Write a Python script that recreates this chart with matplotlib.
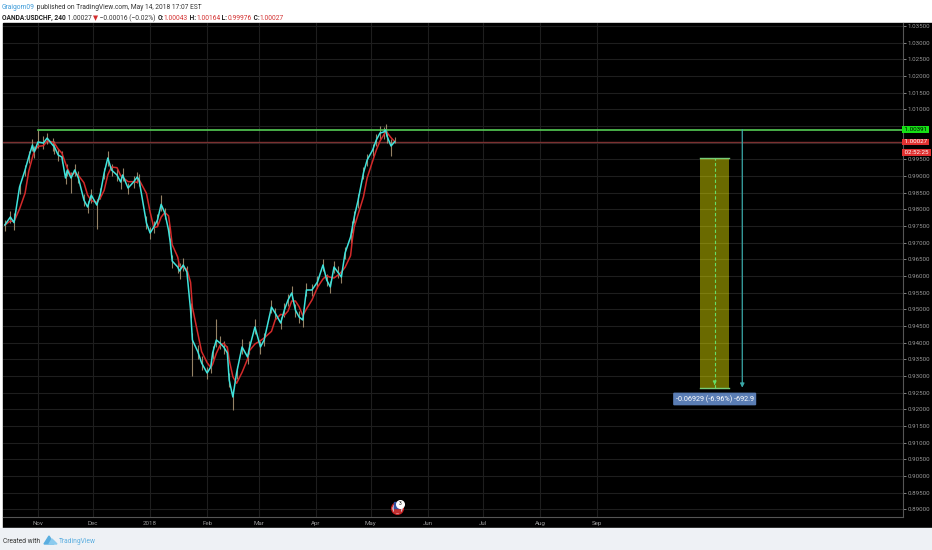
import matplotlib
matplotlib.use("Agg")
import matplotlib.pyplot as plt
import matplotlib.dates as mdates
import matplotlib.patches as mpatches
import matplotlib.text as mtext
import numpy as np
import pandas as pd

plt.rcParams['font.family'] = ['Roboto', 'DejaVu Sans']

# --- data (USDCHF, 4h) ---
dates = ["2017-10-14", "2017-10-17", "2017-10-19", "2017-10-22", "2017-10-25", "2017-10-27",
         "2017-10-29", "2017-10-30", "2017-11-01", "2017-11-04", "2017-11-06", "2017-11-09",
         "2017-11-10", "2017-11-12", "2017-11-14", "2017-11-16", "2017-11-17", "2017-11-19",
         "2017-11-21", "2017-11-23", "2017-11-26", "2017-11-28", "2017-11-30", "2017-12-03",
         "2017-12-05", "2017-12-07", "2017-12-09", "2017-12-11", "2017-12-14", "2017-12-16",
         "2017-12-17", "2017-12-20", "2017-12-23", "2017-12-25", "2017-12-26", "2017-12-30",
         "2018-01-01", "2018-01-03", "2018-01-05", "2018-01-07", "2018-01-09", "2018-01-11",
         "2018-01-12", "2018-01-13", "2018-01-16", "2018-01-17", "2018-01-19", "2018-01-21",
         "2018-01-23", "2018-01-24", "2018-01-27", "2018-01-29", "2018-02-01", "2018-02-03",
         "2018-02-04", "2018-02-06", "2018-02-08", "2018-02-10", "2018-02-12", "2018-02-13",
         "2018-02-15", "2018-02-17", "2018-02-20", "2018-02-23", "2018-02-24", "2018-02-27",
         "2018-03-02", "2018-03-04", "2018-03-08", "2018-03-10", "2018-03-13", "2018-03-15",
         "2018-03-17", "2018-03-19", "2018-03-21", "2018-03-23", "2018-03-25", "2018-03-27",
         "2018-03-30", "2018-04-02", "2018-04-05", "2018-04-07", "2018-04-09", "2018-04-11",
         "2018-04-13", "2018-04-15", "2018-04-17", "2018-04-20", "2018-04-21", "2018-04-22",
         "2018-04-24", "2018-04-27", "2018-04-29", "2018-05-02", "2018-05-04", "2018-05-06",
         "2018-05-08", "2018-05-09", "2018-05-10", "2018-05-12", "2018-05-14"]

closes = [0.9753, 0.9777, 0.9760, 0.9867, 0.9918, 0.9957, 0.9993, 0.9972, 1.0002, 0.9999,
          1.0014, 0.9993, 0.9987, 0.9963, 0.9957, 0.9894, 0.9918, 0.9894, 0.9918, 0.9894,
          0.9828, 0.9807, 0.9843, 0.9813, 0.9849, 0.9909, 0.9954, 0.9918, 0.9903, 0.9882,
          0.9903, 0.9864, 0.9882, 0.9897, 0.9888, 0.9759, 0.9729, 0.9747, 0.9768, 0.9815,
          0.9789, 0.9738, 0.9699, 0.9645, 0.9627, 0.9615, 0.9633, 0.9612, 0.9498, 0.9408,
          0.9372, 0.9339, 0.9309, 0.9327, 0.9369, 0.9408, 0.9399, 0.9387, 0.9369, 0.9288,
          0.9237, 0.9309, 0.9387, 0.9357, 0.9384, 0.9447, 0.9387, 0.9408, 0.9507, 0.9489,
          0.9459, 0.9498, 0.9528, 0.9549, 0.9498, 0.9477, 0.9468, 0.9558, 0.9558, 0.9582,
          0.9633, 0.9588, 0.9567, 0.9627, 0.9612, 0.9597, 0.9669, 0.9717, 0.9747, 0.9777,
          0.9825, 0.9909, 0.9948, 0.9978, 1.0008, 1.0029, 1.0032, 1.0038, 1.0017, 0.9990,
          1.0003]

highs = [0.9768, 0.9795, 0.9790, 0.9880, 0.9932, 0.9975, 1.0010, 0.9990, 1.0039, 1.0020,
         1.0030, 1.0015, 1.0005, 0.9980, 0.9975, 0.9915, 0.9935, 0.9912, 0.9935, 0.9915,
         0.9845, 0.9825, 0.9860, 0.9830, 0.9865, 0.9925, 0.9975, 0.9935, 0.9920, 0.9900,
         0.9925, 0.9880, 0.9900, 0.9912, 0.9905, 0.9780, 0.9748, 0.9765, 0.9785, 0.9843,
         0.9805, 0.9755, 0.9715, 0.9662, 0.9645, 0.9640, 0.9655, 0.9630, 0.9520, 0.9430,
         0.9392, 0.9360, 0.9328, 0.9345, 0.9390, 0.9470, 0.9420, 0.9405, 0.9390, 0.9310,
         0.9260, 0.9330, 0.9410, 0.9375, 0.9405, 0.9470, 0.9405, 0.9428, 0.9528, 0.9505,
         0.9478, 0.9518, 0.9545, 0.9570, 0.9515, 0.9495, 0.9485, 0.9580, 0.9575, 0.9600,
         0.9650, 0.9605, 0.9585, 0.9645, 0.9630, 0.9615, 0.9688, 0.9735, 0.9765, 0.9795,
         0.9845, 0.9928, 0.9965, 0.9995, 1.0025, 1.0050, 1.0048, 1.0056, 1.0035, 1.0010,
         1.0016]

lows = [0.9735, 0.9760, 0.9738, 0.9845, 0.9900, 0.9940, 0.9975, 0.9955, 0.9985, 0.9980,
        0.9995, 0.9975, 0.9965, 0.9945, 0.9938, 0.9875, 0.9900, 0.9850, 0.9900, 0.9878,
        0.9810, 0.9790, 0.9820, 0.9740, 0.9830, 0.9890, 0.9930, 0.9900, 0.9885, 0.9860,
        0.9885, 0.9845, 0.9865, 0.9880, 0.9870, 0.9740, 0.9710, 0.9730, 0.9750, 0.9795,
        0.9770, 0.9720, 0.9680, 0.9625, 0.9610, 0.9590, 0.9615, 0.9590, 0.9475, 0.9300,
        0.9350, 0.9318, 0.9290, 0.9308, 0.9350, 0.9388, 0.9380, 0.9365, 0.9350, 0.9268,
        0.9198, 0.9290, 0.9365, 0.9335, 0.9365, 0.9425, 0.9365, 0.9390, 0.9488, 0.9470,
        0.9440, 0.9478, 0.9510, 0.9530, 0.9478, 0.9458, 0.9448, 0.9540, 0.9540, 0.9565,
        0.9615, 0.9570, 0.9548, 0.9610, 0.9595, 0.9580, 0.9650, 0.9700, 0.9730, 0.9760,
        0.9805, 0.9890, 0.9930, 0.9960, 0.9990, 1.0010, 1.0012, 1.0020, 0.9998, 0.9960,
        0.9998]

month_ticks = ["2017-11-01", "2017-12-01", "2018-01-01", "2018-02-01", "2018-03-01",
               "2018-04-01", "2018-05-01", "2018-06-01", "2018-07-01", "2018-08-01",
               "2018-09-01"]
month_labels = ["Nov", "Dec", "2018", "Feb", "Mar", "Apr", "May", "Jun", "Jul", "Aug", "Sep"]

resistance = 1.00391
last_price = 1.00027
countdown = "02:52:25"
box_dates = ["2018-10-27", "2018-11-12"]
box_prices = [0.92649, 0.99531]
box_mid_date = "2018-11-04"
arrow_date = "2018-11-19"
measure_text = "-0.06929 (-6.96%) -692.9"
event_date = "2018-05-15"

# --- figure ---
W, H = 932, 550
fig = plt.figure(figsize=(W / 100, H / 100), dpi=100, facecolor='white')
fig.patches.append(mpatches.Rectangle((3 / W, 1 - 528 / H), 929 / W, 505 / H,
                                      transform=fig.transFigure, color='black', zorder=-5))
fig.patches.append(mpatches.Rectangle((0, 0), 1, 22 / H, transform=fig.transFigure,
                                      color='#eef1f5', zorder=-5))

ax = fig.add_axes([3 / W, 1 - 517 / H, 900 / W, 494 / H])
ax.set_zorder(2)
ax.set_facecolor('black')

x = pd.to_datetime(dates)
close_s = pd.Series(closes, index=x)
ma = close_s.rolling(3, min_periods=1).mean()

# grid
yticks = np.arange(0.890, 1.0351, 0.005)
ax.set_yticks(yticks)
ax.set_xticks(pd.to_datetime(month_ticks))
ax.set_xticklabels(month_labels)
ax.grid(True, color='#1e1e1e', linewidth=0.8, zorder=0)
ax.set_axisbelow(True)

# candles (wicks) and moving averages
ax.vlines(x, lows, highs, color='#b09a78', linewidth=0.8, alpha=0.85, zorder=2)
ax.plot(x, ma.values, color='#d42a2a', linewidth=1.1, zorder=3)
ax.plot(x, closes, color='#3fe3dc', linewidth=1.1, zorder=4)

# horizontal levels
ax.axhline(last_price, color='#7a3030', linewidth=1.0, zorder=1)
ax.plot([pd.Timestamp("2017-11-01"), pd.Timestamp("2019-03-01")], [resistance, resistance],
        color='#55cc55', linewidth=1.2, zorder=3)

# projection box
b0, b1 = pd.to_datetime(box_dates)
bx0, bx1 = mdates.date2num(b0), mdates.date2num(b1)
ax.add_patch(mpatches.Rectangle((bx0, box_prices[0]), bx1 - bx0, box_prices[1] - box_prices[0],
                                facecolor='#ffff00', alpha=0.42, edgecolor='none', zorder=5))
ax.plot([b0, b1], [box_prices[1]] * 2, color='#77cc77', linewidth=1.0, zorder=6)
ax.plot([b0, b1], [box_prices[0]] * 2, color='#77cc77', linewidth=1.0, zorder=6)
bm = pd.Timestamp(box_mid_date)
ax.plot([bm, bm], box_prices, color='#66dd66', linewidth=0.8, linestyle=(0, (3, 2)), zorder=6)
ax.annotate('', xy=(bm, box_prices[0]), xytext=(bm, box_prices[0] + 0.002),
            arrowprops=dict(arrowstyle='-|>', color='#66dd66', lw=0.8, mutation_scale=5), zorder=6)

# measuring arrow
ad = pd.Timestamp(arrow_date)
ax.annotate('', xy=(ad, box_prices[0]), xytext=(ad, resistance),
            arrowprops=dict(arrowstyle='-|>', color='#3aa8a8', lw=0.9, mutation_scale=6,
                            shrinkA=0, shrinkB=0), zorder=6)
ax.text(bm, 0.9231, measure_text, color='white', fontsize=5.2, ha='center', va='center',
        bbox=dict(boxstyle='round,pad=0.35,rounding_size=0.15', facecolor='#5a7db4',
                  edgecolor='none'), zorder=7)

# economic event marker
ed = pd.Timestamp(event_date)
ax.scatter([ed], [0.8905], s=70, facecolor='#d8d8e8', edgecolor='#cc2222', linewidth=1.0, zorder=6)
ax.scatter([ed], [0.8900], s=14, marker='s', color='#c03030', zorder=7)
ax.scatter([ed], [0.8913], s=14, marker='s', color='#3050a0', zorder=7)
ax.scatter([ed + pd.Timedelta(days=2)], [0.8916], s=30, color='white', zorder=8)
ax.text(ed + pd.Timedelta(days=2), 0.8916, '3', fontsize=3.5, color='black',
        ha='center', va='center', zorder=9)

# limits
ax.set_xlim(mdates.date2num(pd.Timestamp("2017-11-01")) - 19.0,
            mdates.date2num(pd.Timestamp("2017-11-01")) + 470.4)
ax.set_ylim(0.88769, 1.03591)

# axes styling
ax.yaxis.tick_right()
ax.yaxis.set_major_formatter(matplotlib.ticker.FormatStrFormatter('%.5f'))
ax.tick_params(axis='y', colors='#9a9a9a', labelsize=4.4, length=2, width=0.6, pad=1.5)
ax.tick_params(axis='x', colors='#9a9a9a', labelsize=4.4, length=0, pad=3)
for side in ['top', 'left']:
    ax.spines[side].set_visible(False)
for side in ['right', 'bottom']:
    ax.spines[side].set_color('#555555')
    ax.spines[side].set_linewidth(0.8)

# the 1.00000 and 1.00500 labels sit under the price boxes in the reference
fig.canvas.draw()
for val, lab in zip(yticks, ax.get_yticklabels()):
    if abs(val - 1.000) < 1e-6 or abs(val - 1.005) < 1e-6:
        lab.set_visible(False)

# price labels on the axis
ytr = ax.get_yaxis_transform()
for val, txt, bg, fg in [(resistance, '1.00391', '#16e016', 'black'),
                         (last_price, '1.00027', '#e03030', 'white'),
                         (0.99712, countdown, '#e03030', 'white')]:
    ax.text(1.0, val, ' ' + txt + ' ', transform=ytr, fontsize=4.5, color=fg,
            ha='left', va='center', bbox=dict(boxstyle='square,pad=0.12', facecolor=bg,
                                              edgecolor='none'), zorder=10, clip_on=False)


def chain(x0, y0, parts, size):
    # several coloured pieces of text on one line
    prev = fig.text(x0, y0, parts[0][0], color=parts[0][1], fontsize=size,
                    fontweight=parts[0][2], va='bottom')
    for s, color, weight in parts[1:]:
        prev = fig.add_artist(mtext.Annotation(
            s, xy=(1, 0), xycoords=prev, va='bottom', ha='left', color=color,
            fontsize=size, fontweight=weight))


chain(2 / W, 1 - 11 / H, [("Graigom09", '#3a9ad9', 'normal'),
                          (" published on TradingView.com, May 14, 2018 17:07 EST", '#333333', 'normal')], 4.8)
chain(2 / W, 1 - 22 / H, [("OANDA:USDCHF, 240", '#222222', 'bold'),
                          (" 1.00027 ", '#333333', 'normal'),
                          ("▼", '#d32f2f', 'normal'),
                          (" \u22120.00016 (\u22120.02%) ", '#333333', 'normal'),
                          ("O:", '#222222', 'bold'), ("1.00043", '#d32f2f', 'normal'),
                          (" H:", '#222222', 'bold'), ("1.00164", '#d32f2f', 'normal'),
                          (" L:", '#222222', 'bold'), ("0.99976", '#d32f2f', 'normal'),
                          (" C:", '#222222', 'bold'), ("1.00027", '#d32f2f', 'normal')], 4.8)

# footer
fig.text(3 / W, 1 - 543 / H, "Created with", color='#333333', fontsize=4.8, va='baseline')
fig.patches.append(mpatches.Polygon([(44 / W, 1 - 544 / H), (49 / W, 1 - 536 / H),
                                     (54 / W, 1 - 544 / H)], closed=True,
                                    transform=fig.transFigure, color='#5aaee0'))
fig.patches.append(mpatches.Polygon([(49 / W, 1 - 544 / H), (52 / W, 1 - 539 / H),
                                     (57 / W, 1 - 544 / H)], closed=True,
                                    transform=fig.transFigure, color='#8ccbee'))
fig.text(59 / W, 1 - 543 / H, "TradingView", color='#5aaee0', fontsize=4.8, va='baseline')

fig.savefig('out.png', dpi=100, facecolor=fig.get_facecolor())
